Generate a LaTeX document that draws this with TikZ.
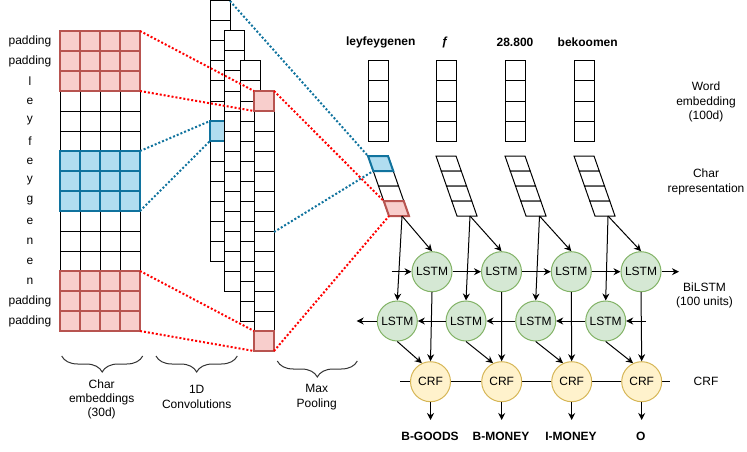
\documentclass[tikz,border=0pt]{standalone}
\usepackage{fontspec}
\setmainfont{Liberation Sans}
\usetikzlibrary{arrows.meta,decorations.pathreplacing,calc}
\definecolor{redfill}{HTML}{F8CECC}
\definecolor{redline}{HTML}{B85450}
\definecolor{bluefill}{HTML}{B1DDF0}
\definecolor{blueline}{HTML}{10739E}
\definecolor{greenfill}{HTML}{D5E8D4}
\definecolor{greenline}{HTML}{82B366}
\definecolor{yellowfill}{HTML}{FFF2CC}
\definecolor{yellowline}{HTML}{D6B656}
\definecolor{dotred}{HTML}{FF0000}
\definecolor{dotblue}{HTML}{10739E}
\begin{document}
\begin{tikzpicture}[x=1pt,y=-1pt,
  font=\fontsize{12}{14.4}\selectfont,
  cell/.style={draw=black,line width=1pt,fill=white},
  redcell/.style={draw=redline,line width=2pt,fill=redfill},
  bluecell/.style={draw=blueline,line width=2pt,fill=bluefill},
  reddot/.style={draw=dotred,line width=2pt,dash pattern=on 2pt off 2pt},
  bluedot/.style={draw=dotblue,line width=2pt,dash pattern=on 2pt off 2pt},
  lstm/.style={circle,draw=greenline,fill=greenfill,line width=1pt,minimum size=40pt,inner sep=0pt},
  crf/.style={circle,draw=yellowline,fill=yellowfill,line width=1pt,minimum size=40pt,inner sep=0pt},
  arr/.style={-{Stealth[length=7pt,width=7pt]},line width=1pt},
  lbl/.style={align=center,inner sep=0pt},
  wordlbl/.style={font=\fontsize{12}{14.4}\selectfont\bfseries,inner sep=0pt},
  brc/.style={decorate,decoration={brace,amplitude=16pt,mirror},draw=black!80,line width=1pt}
]
\useasboundingbox (0,0) rectangle (747,452);

% ---------- character labels ----------
\foreach \t [count=\i from 0] in {padding,padding,l,e,y,f,e,y,g,e,n,e,n,padding,padding}
  \node[lbl] (ch\i) at (30,41+20*\i) {\t};

% ---------- character embedding grid ----------
\foreach \i in {0,...,14}
  \foreach \j in {0,...,3}
    \draw[cell] (60+20*\j,31+20*\i) rectangle ++(20,20);
\foreach \i in {0,1,2,12,13,14}
  \foreach \j in {0,...,3}
    \draw[redcell] (60+20*\j,31+20*\i) rectangle ++(20,20);
\foreach \i in {6,7,8}
  \foreach \j in {0,...,3}
    \draw[bluecell] (60+20*\j,31+20*\i) rectangle ++(20,20);

% ---------- convolution columns ----------
\foreach \i in {0,...,12}
  \draw[cell] (210,1+20*\i) rectangle ++(20,20);
\draw[bluecell] (210,121) rectangle ++(20,20);
\foreach \i in {0,...,12}
  \draw[cell] (224,31+20*\i) rectangle ++(20,20);
\foreach \i in {0,...,12}
  \draw[cell] (240,61+20*\i) rectangle ++(20,20);
% max pooling column
\foreach \i in {0,...,12}
  \draw[cell] (254,91+20*\i) rectangle ++(20,20);
\draw[redcell] (254,91) rectangle ++(20,20);
\draw[redcell] (254,331) rectangle ++(20,20);

% ---------- word labels and word embeddings ----------
\node[wordlbl] (w1) at (380.7,42) {leyfeygenen};
\node[wordlbl] (w2) at (445,42) {ƒ};
\node[wordlbl] (w3) at (515,42) {28.800};
\node[wordlbl] (w4) at (587.7,42) {bekoomen};
\foreach \x in {368,436,505,574}
  \foreach \i in {0,...,3}
    \draw[cell] (\x,61+20*\i) rectangle ++(20,20);

% ---------- char representations ----------
\foreach \x in {368,436,505,574}
  \foreach \k in {0,...,3}
    \draw[cell] (\x+5.25*\k,156+15*\k) -- ++(20,0) -- ++(5.25,15) -- ++(-20,0) -- cycle;
\draw[bluecell] (368,156) -- ++(20,0) -- ++(5.25,15) -- ++(-20,0) -- cycle;
\draw[redcell] (383.75,201) -- ++(20,0) -- ++(5.25,15) -- ++(-20,0) -- cycle;

% ---------- connector anchors ----------
\coordinate (gA) at (140,31);
\coordinate (gB) at (140,91);
\coordinate (gC) at (140,271);
\coordinate (gD) at (140,331);
\coordinate (gE) at (140,151);
\coordinate (gF) at (140,211);
\coordinate (cvA) at (210,121);
\coordinate (cvB) at (210,141);
\coordinate (cvTop) at (230,1);
\coordinate (mpA) at (254,91);
\coordinate (mpB) at (254,111);
\coordinate (mpC) at (254,331);
\coordinate (mpD) at (254,351);
\coordinate (mpE) at (274,91);
\coordinate (mpF) at (274,351);
\coordinate (mpG) at (274,232);
\coordinate (prBlueTop) at (368,156);
\coordinate (prBlueBot) at (373.25,171);
\coordinate (prRedTop) at (383.75,201);
\coordinate (prRedBot) at (389,216);

% ---------- dotted connectors ----------
\draw[reddot] (gA) -- (mpA);
\draw[reddot] (gB) -- (mpB);
\draw[reddot] (gC) -- (mpC);
\draw[reddot] (gD) -- (mpD);
\draw[bluedot] (gE) -- (cvA);
\draw[bluedot] (gF) -- (cvB);
\draw[bluedot] (cvTop) -- (prBlueTop);
\draw[bluedot] (mpG) -- (prBlueBot);
\draw[reddot] (mpE) -- (prRedTop);
\draw[reddot] (mpF) -- (prRedBot);

% ---------- LSTM and CRF ----------
\coordinate (crfL) at (400,381.7);
\coordinate (crfR) at (670,381.7);
\draw[line width=1pt] (crfL) -- (crfR);

\node[lstm] (t1) at (432,271.7) {LSTM};
\node[lstm] (t2) at (501.5,271.7) {LSTM};
\node[lstm] (t3) at (571.3,271.7) {LSTM};
\node[lstm] (t4) at (641,271.7) {LSTM};
\node[lstm] (b1) at (397.3,321) {LSTM};
\node[lstm] (b2) at (466,321) {LSTM};
\node[lstm] (b3) at (535.7,321) {LSTM};
\node[lstm] (b4) at (605.7,321) {LSTM};
\node[crf] (c1) at (430.5,381.7) {CRF};
\node[crf] (c2) at (501.7,381.7) {CRF};
\node[crf] (c3) at (571.7,381.7) {CRF};
\node[crf] (c4) at (641.7,381.7) {CRF};

\coordinate (p1) at (402,216);
\coordinate (p2) at (470,216);
\coordinate (p3) at (539.5,216);
\coordinate (p4) at (608,216);

\foreach \n in {1,2,3,4} {
  \draw[arr] (p\n) -- (t\n.north);
  \draw[arr] (p\n) -- (b\n.north);
  \draw[arr] (t\n.south) -- (c\n.north);
  \draw[arr] (b\n.south) -- (c\n.115);
}

\coordinate (tin) at (391.7,271.7);
\coordinate (tout) at (679,271.7);
\coordinate (bin) at (646,321);
\coordinate (bout) at (356.7,321);
\draw[arr] (tin) -- (t1.west);
\draw[arr] (t1.east) -- (t2.west);
\draw[arr] (t2.east) -- (t3.west);
\draw[arr] (t3.east) -- (t4.west);
\draw[arr] (t4.east) -- (tout);
\draw[arr] (bin) -- (b4.east);
\draw[arr] (b4.west) -- (b3.east);
\draw[arr] (b3.west) -- (b2.east);
\draw[arr] (b2.west) -- (b1.east);
\draw[arr] (b1.west) -- (bout);

% ---------- outputs ----------
\node[wordlbl] (o1) at (430,436.7) {B-GOODS};
\node[wordlbl] (o2) at (501,436.7) {B-MONEY};
\node[wordlbl] (o3) at (571,436.7) {I-MONEY};
\node[wordlbl] (o4) at (640.7,436.7) {O};
\foreach \n/\x in {1/430.5,2/501.7,3/571.7,4/641.7} {
  \coordinate (e\n) at (\x,420);
  \draw[arr] (c\n.south) -- (e\n);
}

% ---------- right-side labels ----------
\node[lbl] (rw) at (706,102) {Word\\embedding\\(100d)};
\node[lbl] (rc) at (706,182) {Char\\representation};
\node[lbl] (rb) at (704.5,295.5) {BiLSTM\\(100 units)};
\node[lbl] (rf) at (706,381.7) {CRF};

% ---------- braces ----------
\draw[brc] (61.7,356) -- (142.7,356);
\draw[brc] (156,356) -- (237.3,356);
\draw[brc] (277.3,361) -- (357.3,361);
\node[lbl] (bl1) at (101.7,399.3) {Char\\embeddings\\(30d)};
\node[lbl] (bl2) at (196.7,397) {1D\\Convolutions};
\node[lbl] (bl3) at (316.7,397) {Max\\Pooling};
\end{tikzpicture}
\end{document}
